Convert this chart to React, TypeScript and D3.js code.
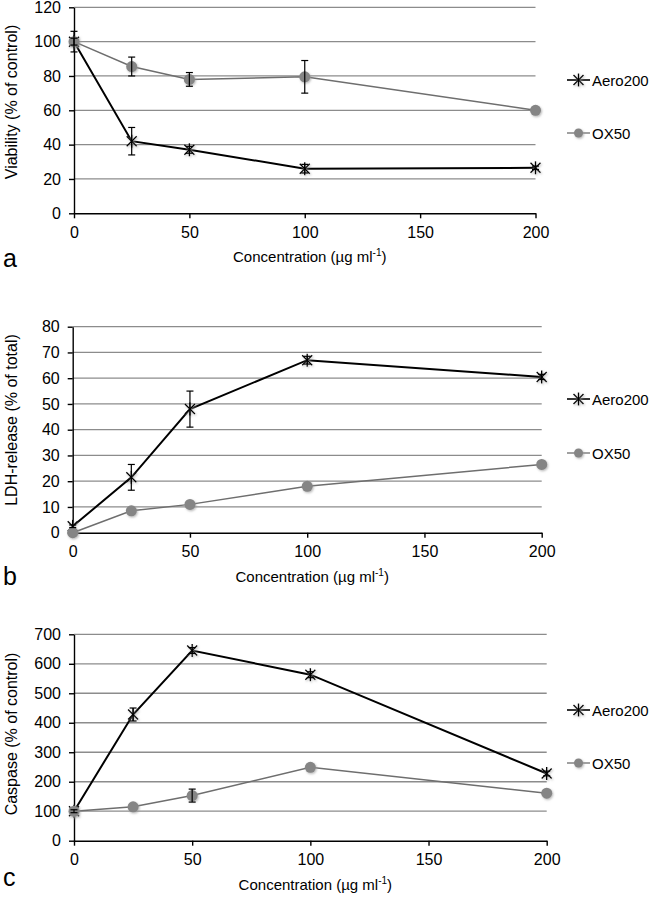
import React, { useEffect, useRef } from 'react'
import { select, scaleLinear, axisLeft, axisBottom, line, range } from 'd3'

// concentrations (µg/ml)
const concentrations = [0, 25, 50, 100, 200]
const xTicks = [0, 50, 100, 150, 200]
const seriesNames = ['Aero200', 'OX50']

// a: viability
const viabilityAero = [100, 42, 37, 26, 26.5]
const viabilityAeroErr = [6, 8, 2, 2.5, 1]
const viabilityOx = [100, 85.5, 78, 79.5, 60]
const viabilityOxErr = [2, 5.5, 4, 9.5, 0]

// b: LDH release
const ldhAero = [2.5, 21.5, 48, 67, 60.5]
const ldhAeroErr = [0.5, 5, 7, 1.5, 1]
const ldhOx = [0, 8.5, 11, 18, 26.5]
const ldhOxErr = [0, 0, 0, 0, 0]

// c: caspase
const caspaseAero = [100, 428, 645, 563, 228]
const caspaseAeroErr = [5, 22, 10, 10, 8]
const caspaseOx = [100, 115, 153, 249, 161]
const caspaseOxErr = [0, 0, 22, 0, 0]

const FONT = "'Liberation Sans', Arial, sans-serif"

const panels = [
  {
    letter: 'a', yLabel: 'Viability (% of control)', yMax: 120, yStep: 20,
    aero: viabilityAero, aeroErr: viabilityAeroErr, ox: viabilityOx, oxErr: viabilityOxErr,
    left: 74, right: 535.5, top: 7.3, bottom: 213.3, legendY: [80, 133], letterY: 267, yTitleY: 102,
  },
  {
    letter: 'b', yLabel: 'LDH-release (% of total)', yMax: 80, yStep: 10,
    aero: ldhAero, aeroErr: ldhAeroErr, ox: ldhOx, oxErr: ldhOxErr,
    left: 72.7, right: 541.7, top: 326.7, bottom: 532.7, legendY: [399, 453], letterY: 585, yTitleY: 420,
  },
  {
    letter: 'c', yLabel: 'Caspase (% of control)', yMax: 700, yStep: 100,
    aero: caspaseAero, aeroErr: caspaseAeroErr, ox: caspaseOx, oxErr: caspaseOxErr,
    left: 74, right: 546.7, top: 634.3, bottom: 840.7, legendY: [710, 763], letterY: 886, yTitleY: 734,
  },
]

function drawStar(sel, cx, cy) {
  const g = sel.append('g').attr('transform', `translate(${cx},${cy})`)
    .attr('stroke', '#000').attr('stroke-width', 1.4).attr('filter', 'url(#shadow)')
  g.append('line').attr('x1', -5).attr('y1', -5).attr('x2', 5).attr('y2', 5)
  g.append('line').attr('x1', -5).attr('y1', 5).attr('x2', 5).attr('y2', -5)
  g.append('line').attr('x1', 0).attr('y1', -6.5).attr('x2', 0).attr('y2', 6.5)
}

function drawDot(sel, cx, cy, r) {
  sel.append('circle').attr('cx', cx).attr('cy', cy).attr('r', r)
    .attr('fill', '#858585').attr('filter', 'url(#shadow)')
}

function App() {
  const ref = useRef(null)

  useEffect(() => {
    const svg = select(ref.current)
    svg.selectAll('*').remove()

    svg.append('defs').append('filter').attr('id', 'shadow')
      .attr('x', '-50%').attr('y', '-50%').attr('width', '200%').attr('height', '200%')
      .append('feDropShadow').attr('dx', 1).attr('dy', 1.2).attr('stdDeviation', 1.2)
      .attr('flood-color', '#999').attr('flood-opacity', 0.7)

    panels.forEach((p) => {
      const x = scaleLinear().domain([0, 200]).range([p.left, p.right])
      const y = scaleLinear().domain([0, p.yMax]).range([p.bottom, p.top])
      const yTicks = range(0, p.yMax + 1, p.yStep)
      const g = svg.append('g')

      //gridlines
      g.append('g').selectAll('line')
        .data(yTicks.filter((t) => t > 0))
        .join('line')
        .attr('x1', p.left).attr('x2', x(200))
        .attr('y1', (d) => y(d)).attr('y2', (d) => y(d))
        .attr('stroke', '#8c8c8c').attr('stroke-width', 1.3)

      //axes
      const ya = g.append('g').attr('transform', `translate(${p.left},0)`)
        .call(axisLeft(y).tickValues(yTicks).tickSize(5).tickSizeOuter(0).tickPadding(8))
      const xa = g.append('g').attr('transform', `translate(0,${p.bottom})`)
        .call(axisBottom(x).tickValues(xTicks).tickSize(5).tickSizeOuter(0).tickPadding(8))
      ;[ya, xa].forEach((a) => {
        a.selectAll('path,line').attr('stroke', '#000').attr('stroke-width', 1.4)
        a.selectAll('text').attr('font-size', 16).attr('font-family', FONT).attr('fill', '#000')
      })

      //lines
      const lineGen = line().x((d) => x(d[0])).y((d) => y(d[1]))
      const aeroPts = concentrations.map((c, i) => [c, p.aero[i]])
      const oxPts = concentrations.map((c, i) => [c, p.ox[i]])
      g.append('path').attr('d', lineGen(aeroPts)).attr('fill', 'none')
        .attr('stroke', '#000').attr('stroke-width', 2)
      g.append('path').attr('d', lineGen(oxPts)).attr('fill', 'none')
        .attr('stroke', '#6e6e6e').attr('stroke-width', 1.5)

      //markers
      aeroPts.forEach((d) => drawStar(g, x(d[0]), y(d[1])))
      oxPts.forEach((d) => drawDot(g, x(d[0]), y(d[1]), 5.5))

      //error bars
      const errs = [
        ...concentrations.map((c, i) => [c, p.aero[i], p.aeroErr[i]]),
        ...concentrations.map((c, i) => [c, p.ox[i], p.oxErr[i]]),
      ].filter((d) => d[2] > 0)
      errs.forEach(([c, v, e]) => {
        const cx = x(c)
        const eb = g.append('g').attr('stroke', '#000').attr('stroke-width', 1.2)
        eb.append('line').attr('x1', cx).attr('x2', cx).attr('y1', y(v - e)).attr('y2', y(v + e))
        eb.append('line').attr('x1', cx - 3.5).attr('x2', cx + 3.5).attr('y1', y(v + e)).attr('y2', y(v + e))
        eb.append('line').attr('x1', cx - 3.5).attr('x2', cx + 3.5).attr('y1', y(v - e)).attr('y2', y(v - e))
      })

      //legend
      seriesNames.forEach((name, i) => {
        const ly = p.legendY[i]
        g.append('line').attr('x1', 567).attr('x2', 590).attr('y1', ly).attr('y2', ly)
          .attr('stroke', i === 0 ? '#000' : '#6e6e6e').attr('stroke-width', i === 0 ? 1.6 : 1.3)
        if (i === 0) drawStar(g, 578.5, ly)
        else drawDot(g, 578.5, ly, 4.5)
        g.append('text').attr('x', 592).attr('y', ly).attr('dominant-baseline', 'central')
          .attr('font-size', 15).attr('font-family', FONT).text(name)
      })

      //titles
      const xt = g.append('text').attr('x', (p.left + x(200)) / 2 + 5).attr('y', p.bottom + 49)
        .attr('text-anchor', 'middle').attr('font-size', 15).attr('font-family', FONT)
      xt.append('tspan').text('Concentration (µg ml')
      xt.append('tspan').attr('font-size', 10).attr('dy', -6).text('-1')
      xt.append('tspan').attr('dy', 6).text(')')

      g.append('text').attr('transform', `translate(11,${p.yTitleY}) rotate(-90)`)
        .attr('text-anchor', 'middle').attr('dominant-baseline', 'central')
        .attr('font-size', 16).attr('font-family', FONT).text(p.yLabel)

      g.append('text').attr('x', 3).attr('y', p.letterY)
        .attr('font-size', 25).attr('font-family', FONT).text(p.letter)
    })
  })

  return (
    <svg ref={ref} width={657} height={897}
      style={{ position: 'absolute', left: 0, top: 0, background: '#fff' }}></svg>
  )
}

export default App
